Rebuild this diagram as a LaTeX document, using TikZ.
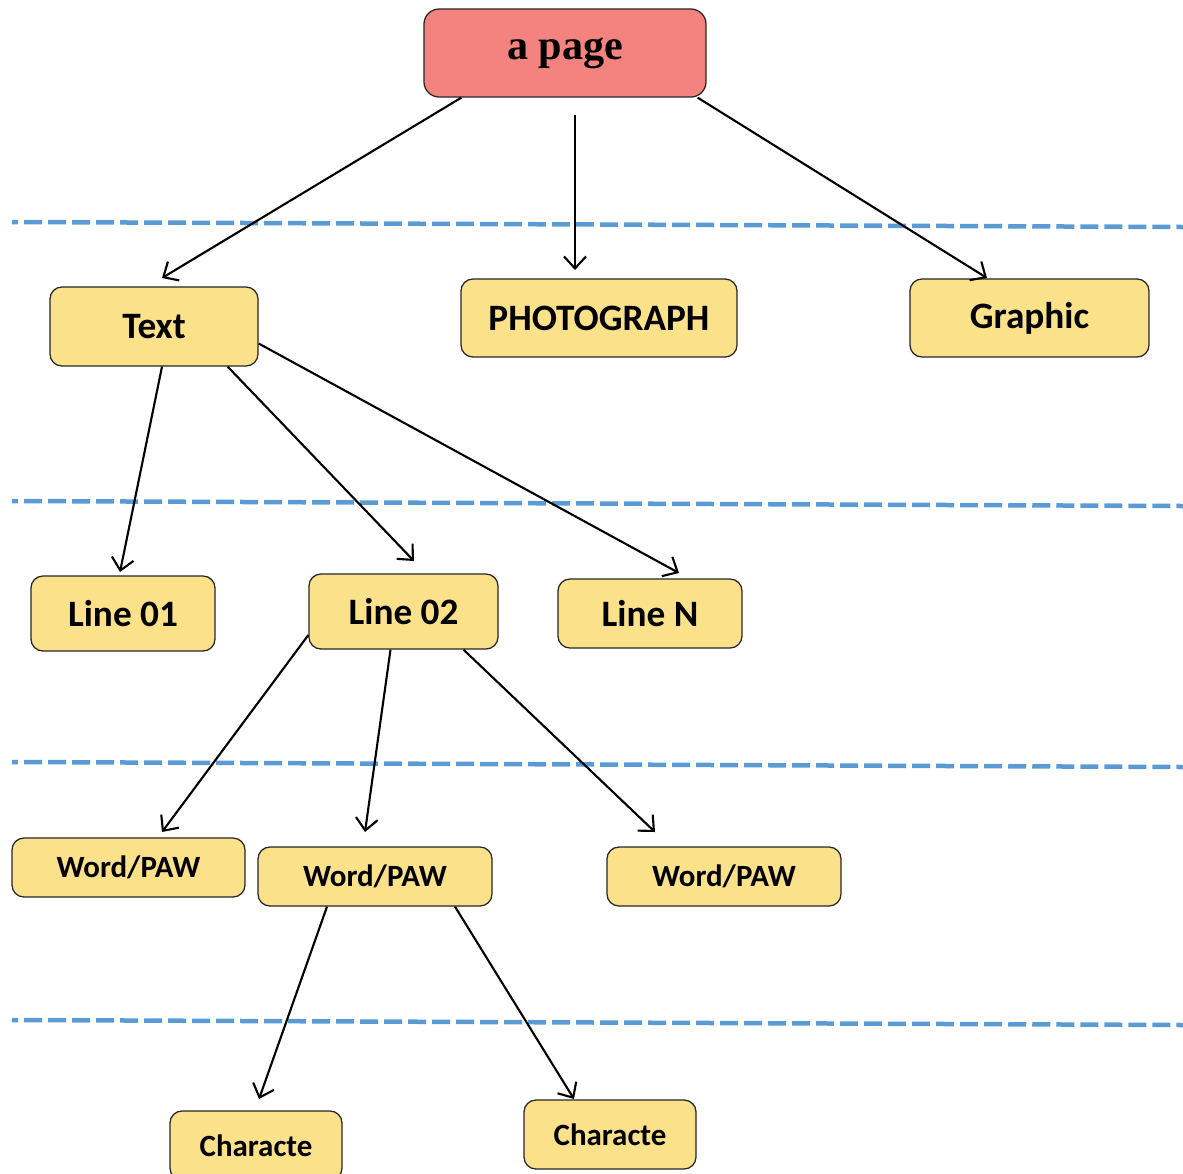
\documentclass[tikz,border=0pt]{standalone}
\usepackage{fontspec}
\usepackage{tikz}
\usetikzlibrary{arrows.meta,positioning,calc}
\newfontfamily\boxfont{Carlito}
\newfontfamily\pagefont{Liberation Serif}
\definecolor{rosy}{HTML}{F4837F}
\definecolor{butter}{HTML}{FCE18B}
\definecolor{skyline}{HTML}{5B9BD5}
\definecolor{rim}{HTML}{262626}

\begin{document}
\begin{tikzpicture}[x=0.025cm,y=-0.025cm,>={Straight Barb[length=3mm,width=5.5mm]},
            item/.style={rectangle,rounded corners=0.3cm,draw=rim,fill=butter,line width=0.9pt,
                         font=\boxfont\bfseries\fontsize{26.5}{30}\selectfont},
            small/.style={item,font=\boxfont\bfseries\fontsize{22}{26}\selectfont},
            root/.style={rectangle,rounded corners=0.38cm,draw=rim,fill=rosy,line width=0.9pt,
                         font=\pagefont\bfseries\fontsize{30}{36}\selectfont},
            level/.style={skyline,line width=3.2pt,dash pattern=on 0.45cm off 0.15cm},
            link/.style={->,black,line width=1.5pt}]
          \useasboundingbox (0,0) rectangle (1183,1173);
          \foreach \ya/\yb in {222/227,501/506,762/767,1020/1025}
            \draw[level,dash phase=0.3cm] (12,\ya) -- (1183,\yb);
          \node[root,minimum width=7.05cm,minimum height=2.2cm] (page) at (565,53) {a page};
          \node[item,minimum width=5.2cm,minimum height=1.975cm] (text) at (154,326.5) {Text};
          \node[item,minimum width=6.9cm,minimum height=1.95cm] (photo) at (599,318) {PHOTOGRAPH};
          \node[item,minimum width=5.975cm,minimum height=1.95cm] (graphic) at (1029.5,318) {Graphic};
          \node[item,minimum width=4.6cm,minimum height=1.875cm] (lineA) at (123,613.5) {Line 01};
          \node[item,minimum width=4.725cm,minimum height=1.875cm] (lineB) at (403.5,611.5) {Line 02};
          \node[item,minimum width=4.6cm,minimum height=1.725cm] (lineN) at (650,613.5) {Line N};
          \node[small,minimum width=5.825cm,minimum height=1.475cm] (wordA) at (128.5,867.5) {Word/PAW};
          \node[small,minimum width=5.85cm,minimum height=1.475cm] (wordB) at (375,876.5) {Word/PAW};
          \node[small,minimum width=5.85cm,minimum height=1.475cm] (wordC) at (724,876.5) {Word/PAW};
          \node[small,minimum width=4.3cm,minimum height=1.725cm] (charA) at (256,1145.5) {Characte};
          \node[small,minimum width=4.3cm,minimum height=1.725cm] (charB) at (610,1134.5) {Characte};
          \coordinate (toText) at (162,278);
          \coordinate (toPhoto) at (575,270);
          \coordinate (toGraphic) at (987,278);
          \coordinate (toLineA) at (120,572);
          \coordinate (toLineB) at (414,561);
          \coordinate (toLineN) at (679,573);
          \coordinate (toWordA) at (162,832);
          \coordinate (toWordB) at (365,832);
          \coordinate (toWordC) at (655,832);
          \coordinate (toCharA) at (259,1099);
          \coordinate (toCharB) at (574,1099);
          \draw[link] ($(page.south west)+(38,0)$) -- (toText);
          \draw[link] ($(page.south)+(10,17)$) -- (toPhoto);
          \draw[link] ($(page.south east)+(-9,0)$) -- (toGraphic);
          \draw[link] ($(text.south)+(8,0)$) -- (toLineA);
          \draw[link] ($(text.south east)+(-31,0)$) -- (toLineB);
          \draw[link] ($(text.east)+(0,17)$) -- (toLineN);
          \draw[link] ($(lineB.west)+(0,23.5)$) -- (toWordA);
          \draw[link] ($(lineB.south)+(-13,0)$) -- (toWordB);
          \draw[link] ($(lineB.south)+(60,0)$) -- (toWordC);
          \draw[link] ($(wordB.south)+(-48,0)$) -- (toCharA);
          \draw[link] ($(wordB.south)+(80,0)$) -- (toCharB);
        \end{tikzpicture}
\end{document}
